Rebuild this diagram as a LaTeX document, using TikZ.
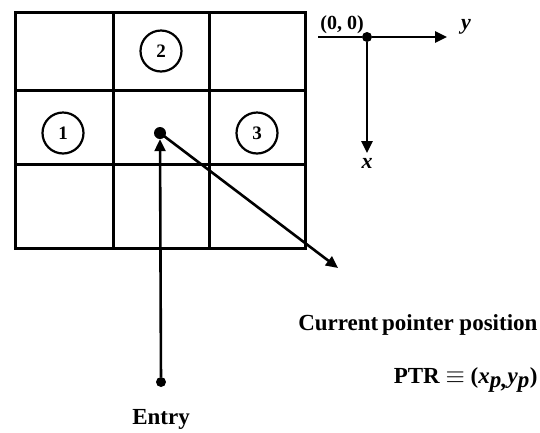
\documentclass[tikz,border=0pt]{standalone}
\usepackage{fontspec}
\setmainfont{Liberation Serif}
\usetikzlibrary{arrows.meta, positioning}

\begin{document}
\begin{tikzpicture}[
    x=1pt, y=-1pt,
    font=\bfseries,
    cellline/.style={line width=3pt},
    numcircle/.style={circle, draw, line width=2.2pt, minimum size=41pt, inner sep=0pt, font=\bfseries\fontsize{19}{19}\selectfont},
    dotnode/.style={circle, fill, inner sep=0pt, minimum size=10pt},
    line/.style={draw, line width=2.6pt, -{Triangle[length=12pt, width=11pt]}}
]
    \useasboundingbox (0,0) rectangle (540,432);

    % 3x3 cell grid
    \draw[cellline] (15,12) rectangle (305,248);
    \foreach \gx in {113,209}
        \draw[cellline] (\gx,12) -- (\gx,248);
    \foreach \gy in {90,164}
        \draw[cellline] (15,\gy) -- (305,\gy);

    % numbered neighbours
    \node [numcircle] (C2) at (161,51) {2};
    \node [numcircle] (C1) at (63,133) {1};
    \node [numcircle] (C3) at (257,133) {3};

    % pointer and entry
    \node [dotnode, minimum size=12pt] (P_ptr) at (160,133) {};
    \node [dotnode] (P_entry) at (161,382) {};
    \coordinate (P_tip) at (338,268);
    \node (L_entry) at (161,419) {\fontsize{23}{23}\selectfont Entry};
    \node [anchor=east] (L_cur) at (541,325) {\fontsize{23}{23}\selectfont Current\,pointer position};
    \node [anchor=east] (L_ptr) at (541,380) {\fontsize{23}{23}\selectfont PTR $\equiv$ (\textit{x}$_{\textit{p,}}$\textit{y}$_{\textit{p}}$)};

    \path [line] (P_entry) -- (P_ptr.south);
    \path [line] (P_ptr.center) -- (P_tip);

    % axes
    \node [dotnode] (O) at (367,37) {};
    \coordinate (O_left) at (318,37);
    \coordinate (Y_end) at (447,37);
    \coordinate (X_end) at (367,153);
    \draw [line width=2.6pt] (O_left) -- (O);
    \path [line] (O) -- (Y_end);
    \path [line] (O) -- (X_end);
    \node (L_o) at (342,25) {\fontsize{20}{20}\selectfont (0, 0)};
    \node (L_y) at (466,27) {\fontsize{22}{22}\selectfont\itshape y};
    \node (L_x) at (367,163) {\fontsize{22}{22}\selectfont\itshape x};
\end{tikzpicture}
\end{document}
